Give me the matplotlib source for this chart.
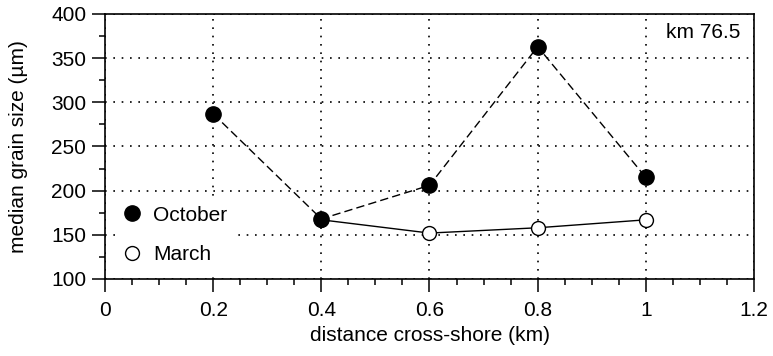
import matplotlib
matplotlib.use("Agg")
import matplotlib.pyplot as plt
from matplotlib.lines import Line2D

plt.rcParams['font.family'] = ['Liberation Sans', 'DejaVu Sans']

distance = [0.2, 0.4, 0.6, 0.8, 1.0]
october = [287, 168, 206, 363, 215]
march_x = [0.4, 0.6, 0.8, 1.0]
march = [167, 152, 158, 167]
xticks = [0, 0.2, 0.4, 0.6, 0.8, 1.0, 1.2]
xticklabels = ['0', '0.2', '0.4', '0.6', '0.8', '1', '1.2']
yticks = [100, 150, 200, 250, 300, 350, 400]

fig = plt.figure(figsize=(7.73, 3.56), dpi=100)
ax = fig.add_axes([105/773, 1 - 279/356, 649/773, 265/356])

ax.plot(march_x, march, '-', color='black', lw=1.0, marker='o', ms=10,
        mfc='white', mec='black', mew=1.0, zorder=3)
ax.plot(distance, october, color='black', lw=1.0, ls=(0, (6, 3)), marker='o',
        ms=11, mfc='black', mec='black', zorder=4)

ax.set_xlim(0, 1.2)
ax.set_ylim(100, 400)
ax.set_xticks(xticks)
ax.set_xticklabels(xticklabels)
ax.set_xticks([i * 0.05 for i in range(25)], minor=True)
ax.set_yticks(yticks)
ax.set_yticks(list(range(100, 401, 25)), minor=True)
ax.tick_params(which='major', direction='out', length=9.5, width=1.1, labelsize=15,
               color='black')
ax.tick_params(axis='x', which='major', pad=6)
ax.tick_params(axis='y', which='major', pad=4)
ax.tick_params(which='minor', direction='out', length=4.5, width=1.1, color='black')
for s in ax.spines.values():
    s.set_linewidth(1.2)

ax.grid(True, which='major', ls=(0, (1, 4)), lw=1.2, color='black')
ax.set_axisbelow(True)

ax.set_xlabel('distance cross-shore (km)', fontsize=15)
ax.xaxis.set_label_coords(0.5, -(326 - 279) / 265)
ax.set_ylabel('median grain size (µm)', fontsize=15)
ax.yaxis.set_label_coords((28 - 105) / 649, 0.5)
ax.text((740 - 105) / 649, (279 - 33) / 265, 'km 76.5', transform=ax.transAxes,
        ha='right', va='center', fontsize=15)

handles = [Line2D([], [], ls='none', marker='o', ms=11, mfc='black', mec='black'),
           Line2D([], [], ls='none', marker='o', ms=10, mfc='white', mec='black')]
leg = ax.legend(handles, ['October', 'March'], loc='center left',
                bbox_to_anchor=((117 - 105) / 649, (279 - 235) / 265),
                frameon=True, fontsize=15, handletextpad=0.64, labelspacing=1.0,
                borderpad=0.3, handlelength=0.8, borderaxespad=0)
leg.get_frame().set_edgecolor('none')
leg.get_frame().set_facecolor('white')
leg.get_frame().set_alpha(1)

fig.savefig('out.png', dpi=100)
